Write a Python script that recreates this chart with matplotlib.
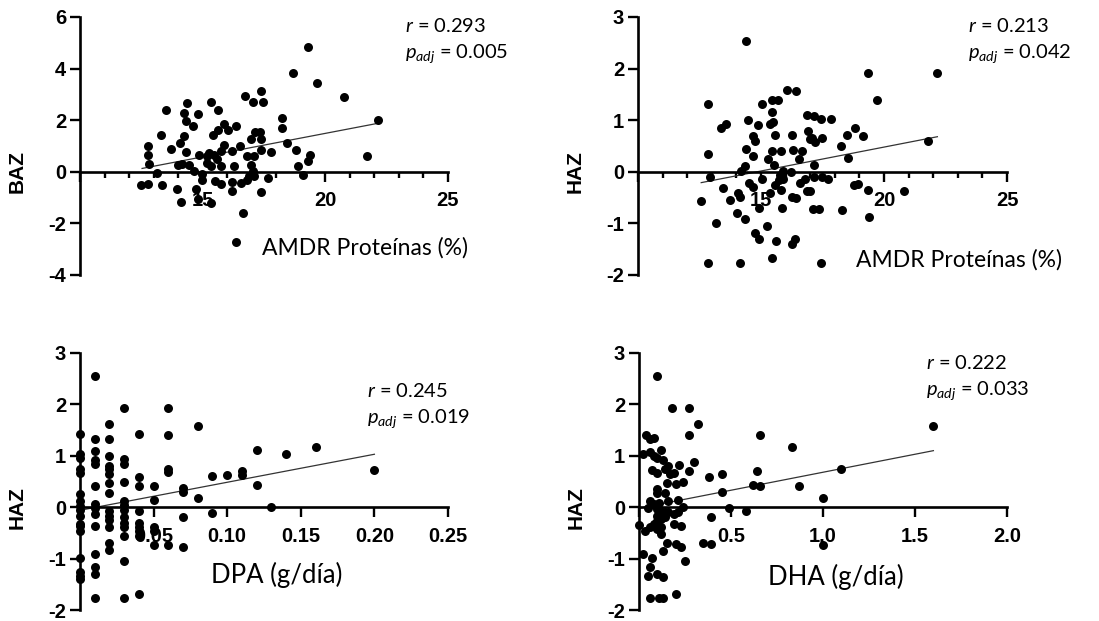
import numpy as np
import matplotlib
matplotlib.use("Agg")
import matplotlib.pyplot as plt

plt.rcParams['mathtext.fontset'] = 'custom'
plt.rcParams['mathtext.rm'] = 'Lato'
plt.rcParams['mathtext.it'] = 'Lato:italic'

# AMDR proteinas (%) vs BAZ
amdr_baz_x = [22.15, 19.3, 19.66, 18.7, 20.75, 21.7, 17.37, 16.71, 17.05, 17.47, 17.12, 17.33, 16.99, 17.37,
              17.37, 17.8, 18.25, 18.25, 18.44, 18.8, 18.9, 19.07, 19.38, 19.3, 17.67, 17.37, 16.64, 16.34,
              17.1, 16.8, 16.96, 17.05, 17.1, 16.88, 16.8, 16.55, 16.2, 16.2, 16.34, 16.51, 16.2, 16.27,
              16.03, 15.85, 15.62, 15.34, 15.64, 15.41, 15.86, 15.75, 15.48, 15.27, 15.18, 15.59, 15.73,
              15.34, 15.16, 15.51, 15.73, 15.34, 14.79, 14.74, 14.97, 14.96, 14.66, 14.85, 14.62, 14.79,
              14.38, 14.25, 14.32, 14.25, 14.08, 14.32, 14.16, 14.43, 14.0, 13.97, 14.1, 13.7, 13.5, 13.3,
              13.36, 13.12, 12.82, 12.78, 12.78, 12.78, 12.5]
amdr_baz_y = [2.02, 4.85, 3.43, 3.82, 2.89, 0.63, 3.15, 2.94, 2.71, 2.71, 1.53, 1.53, 1.27, 1.27,
              0.86, 0.77, 2.08, 1.70, 1.12, 0.86, 0.22, -0.13, 0.67, 0.41, -0.23, -0.78, -1.61, -2.71,
              0.6, 0.6, 0.28, 0.03, -0.17, -0.17, -0.3, -0.42, -0.4, -0.75, 1.76, 0.99, 0.8, 0.22,
              1.63, 1.86, 2.4, 2.69, 1.63, 1.44, 1.02, 0.8, 0.67, 0.73, 0.6, 0.5, 0.22,
              0.22, 0.35, -0.36, -0.46, -1.22, -1.04, -0.68, -0.3, -0.1, 0.03, 0.66, 1.79, 2.25,
              2.66, 2.28, 1.95, 1.4, 1.12, 0.77, 0.31, 0.28, 0.26, -0.66, -1.16, 0.9, 2.4, 1.44,
              -0.53, -0.06, 0.31, 0.67, 0.99, -0.49, -0.53]
amdr_baz_fit_x = [12.53, 22.2]
amdr_baz_fit_y = [0.13, 1.89]

# AMDR proteinas (%) vs HAZ
amdr_haz_x = [14.4, 22.15, 19.36, 19.7, 18.82, 19.13, 18.48, 18.27, 18.52, 21.77, 17.85, 17.43, 17.16, 16.88,
              16.92, 17.06, 17.2, 17.46, 16.99, 16.06, 16.41, 15.46, 15.69, 15.46, 15.04, 15.49, 15.38,
              15.57, 16.26, 14.46, 14.88, 14.68, 14.77, 14.4, 14.68, 14.33, 14.2, 15.28, 15.46, 15.8,
              16.3, 16.67, 16.55, 15.52, 15.9, 16.2, 15.76, 15.9, 15.73, 15.04, 14.51, 14.68, 15.38,
              15.56, 15.83, 16.28, 16.44, 16.58, 16.78, 16.85, 16.99, 17.16, 17.17, 17.46, 17.73, 18.79,
              18.95, 19.36, 20.82, 19.4, 18.3, 17.12, 17.36, 17.43, 15.86, 14.92, 15.24, 15.6, 15.45,
              14.77, 14.92, 16.24, 16.37, 14.33, 14.04, 14.16, 14.06, 13.72, 13.45, 13.18, 13.36, 13.56,
              12.85, 12.85, 12.91, 12.57, 12.85, 14.13]
amdr_haz_y = [2.54, 1.92, 1.92, 1.39, 0.84, 0.69, 0.71, 0.5, 0.26, 0.6, 1.02, 1.02, 1.08, 1.1,
              0.79, 0.66, 0.58, 0.66, 0.63, 1.59, 1.57, 1.4, 1.4, 1.16, 1.31, 0.97, 0.92,
              0.71, 0.71, 1.01, 0.9, 0.69, 0.6, 0.45, 0.3, 0.11, 0.02, 0.24, 0.41, 0.41,
              0.42, 0.41, 0.24, 0.13, 0.02, 0.0, -0.06, -0.13, -0.16, -0.13, -0.21, -0.3, -0.41,
              -0.26, -0.35, -0.48, -0.5, -0.21, -0.13, -0.37, -0.37, 0.13, -0.1, -0.1, -0.13, -0.25,
              -0.23, -0.35, -0.37, -0.87, -0.74, -0.73, -0.73, -1.77, -0.71, -0.71, -1.06, -1.34, -1.68,
              -1.18, -1.3, -1.39, -1.31, -0.92, -0.79, -0.48, -0.42, -0.55, -0.32, -0.99, 0.85, 0.92,
              1.31, 0.35, -0.1, -0.56, -1.77, -1.77]
amdr_haz_fit_x = [12.57, 22.17]
amdr_haz_fit_y = [-0.21, 0.68]

# DPA (g/dia) vs HAZ
dpa_x = ([0.0] * 17 + [0.01] * 14 + [0.02] * 14 + [0.03] * 13 + [0.04] * 9 + [0.05] * 5 + [0.06] * 5
         + [0.07] * 4 + [0.08] * 2 + [0.09] * 2 + [0.10] + [0.11] * 2 + [0.12] * 2 + [0.13] + [0.14]
         + [0.16] + [0.20])
dpa_y = [1.42, 1.04, 0.95, 0.74, 0.67, 0.25, 0.12, 0.03, -0.06, -0.17, -0.33, -0.36, -0.47, -0.98, -1.27, -1.33, -1.4,
         2.56, 1.33, 1.09, 0.91, 0.85, 0.41, 0.06, -0.01, -0.14, -0.36, -0.91, -1.16, -1.3, -1.77,
         1.61, 1.33, 1.0, 0.8, 0.74, 0.64, 0.47, 0.27, -0.07, -0.17, -0.25, -0.39, -0.7, -0.83,
         1.93, 0.93, 0.85, 0.5, 0.12, 0.05, -0.06, -0.2, -0.3, -0.38, -0.56, -1.04, -1.77,
         1.42, 0.59, 0.41, -0.07, -0.3, -0.39, -0.47, -0.56, -1.69,
         0.41, 0.14, -0.39, -0.47, -0.73,
         1.93, 1.4, 0.74, 0.69, -0.73,
         0.38, 0.3, -0.2, -0.78,
         1.58, 0.17,
         0.61, -0.12,
         0.62,
         0.71, 0.62,
         1.11, 0.43,
         0.01,
         1.03,
         1.17,
         0.72]
dpa_fit_x = [0.0, 0.20]
dpa_fit_y = [-0.06, 1.03]

# DHA (g/dia) vs HAZ
dha_x = [0.10, 0.18, 0.27, 0.32, 0.27, 0.30, 0.22, 0.27, 0.24, 0.21, 0.24, 0.19, 0.23, 0.20, 0.23, 0.25,
         0.20, 0.15, 0.13, 0.13, 0.10, 0.11, 0.13, 0.06, 0.06, 0.05, 0.07, 0.02, 0.0, 0.03, 0.06, 0.08,
         0.10, 0.12, 0.04, 0.06, 0.08, 0.02, 0.06, 0.08, 0.12, 0.10, 0.13, 0.16, 0.07, 0.10, 0.14, 0.17,
         0.19, 0.20, 0.15, 0.10, 0.10, 0.14, 0.16, 0.06, 0.08, 0.11, 0.05, 0.10, 0.13, 0.16, 0.19, 0.21,
         0.10, 0.12, 0.14, 0.10, 0.08, 0.12, 0.38, 0.45, 0.45, 0.39, 0.35, 0.39, 0.49, 0.58, 0.62, 0.64,
         0.66, 0.66, 0.83, 0.87, 1.0, 1.0, 1.1, 1.6]
dha_y = [2.56, 1.93, 1.93, 1.61, 1.4, 0.87, 0.83, 0.71, 0.5, 0.14, 0.01, -0.33, -0.36, -0.72, -0.78, -1.04,
         -1.68, -0.69, -0.86, -1.35, -1.3, -1.77, -1.77, -1.77, -1.17, -1.33, -0.98, -0.91, -0.34, -0.47, -0.39, -0.33,
         -0.43, -0.52, 1.4, 1.32, 1.34, 1.03, 1.08, 1.0, 1.11, 0.96, 0.91, 0.8, 0.72, 0.67, 0.74, 0.64,
         0.67, 0.45, 0.48, 0.35, 0.27, 0.28, 0.12, 0.12, 0.06, 0.09, -0.01, -0.04, -0.08, -0.1, -0.14, -0.1,
         -0.17, -0.23, -0.2, -0.27, -0.36, -0.38, 0.59, 0.64, 0.3, -0.19, -0.7, -0.72, -0.02, -0.08, 0.43, 0.71,
         1.4, 0.41, 1.18, 0.41, 0.17, -0.73, 0.74, 1.58]
dha_fit_x = [0.0, 1.6]
dha_fit_y = [-0.02, 1.1]

W, H = 1099, 621
fig = plt.figure(figsize=(W / 100, H / 100), dpi=100)


def make_panel(rect_px, x, y, fit_x, fit_y, xlim, ylim, xticks, xminor, yticks, xtlabels,
               ylabel, xlabel, xlab_pos, r_text, p_text, stat_pos):
    left, top, right, bottom = rect_px
    ax = fig.add_axes([left / W, 1 - bottom / H, (right - left) / W, (bottom - top) / H])
    ax.scatter(x, y, s=42, color='black', zorder=3, linewidths=0, clip_on=False)
    ax.plot(fit_x, fit_y, color='#333333', lw=0.9, zorder=2)
    ax.set_xlim(xlim)
    ax.set_ylim(ylim)
    for s in ['top', 'right']:
        ax.spines[s].set_visible(False)
    ax.spines['bottom'].set_position(('data', 0))
    ax.spines['left'].set_linewidth(1.9)
    ax.spines['bottom'].set_linewidth(1.9)
    ax.set_xticks(xticks)
    ax.set_xticklabels(xtlabels)
    if xminor is not None:
        ax.set_xticks(xminor, minor=True)
    ax.set_yticks(yticks)
    ax.set_yticklabels([str(v) for v in yticks])
    ax.tick_params(axis='both', which='major', direction='out', length=7, width=1.7, labelsize=14.5, pad=3)
    ax.tick_params(axis='x', which='minor', direction='out', length=4, width=1.7)
    ax.tick_params(axis='x', which='major', pad=7)
    for lab in ax.get_xticklabels() + ax.get_yticklabels():
        lab.set_family('Liberation Sans')
        lab.set_weight('bold')
    ax.set_ylabel(ylabel, fontsize=15, fontweight='bold', family='Liberation Sans')
    ax.yaxis.set_label_coords(-0.145, 0.4)
    ax.text(xlab_pos[0], xlab_pos[1], xlabel, transform=ax.transAxes, ha='center', va='center',
            fontsize=xlab_pos[2], family='Lato')
    ax.text(stat_pos[0], stat_pos[1], r_text, transform=ax.transAxes, ha='left', va='center',
            fontsize=14.5, family='Lato')
    ax.text(stat_pos[0], stat_pos[2], p_text, transform=ax.transAxes, ha='left', va='center',
            fontsize=14.5, family='Lato')
    return ax


make_panel((80, 17, 448, 275), amdr_baz_x, amdr_baz_y, amdr_baz_fit_x, amdr_baz_fit_y,
           (10, 25), (-4, 6), [10, 15, 20, 25], list(range(11, 25)), [-4, -2, 0, 2, 4, 6],
           ['', '15', '20', '25'], 'BAZ', 'AMDR Proteínas (%)', (0.775, 0.105, 16.5),
           r'$r$ = 0.293', r'$p_{adj}$ = 0.005', (0.883, 0.965, 0.858))

make_panel((638, 17, 1007, 275), amdr_haz_x, amdr_haz_y, amdr_haz_fit_x, amdr_haz_fit_y,
           (10, 25), (-2, 3), [10, 15, 20, 25], list(range(11, 25)), [-2, -1, 0, 1, 2, 3],
           ['', '15', '20', '25'], 'HAZ', 'AMDR Proteínas (%)', (0.87, 0.058, 16.5),
           r'$r$ = 0.213', r'$p_{adj}$ = 0.042', (0.894, 0.965, 0.858))

make_panel((80, 353, 448, 610), dpa_x, dpa_y, dpa_fit_x, dpa_fit_y,
           (0, 0.25), (-2, 3), [0, 0.05, 0.10, 0.15, 0.20, 0.25], None, [-2, -1, 0, 1, 2, 3],
           ['', '0.05', '0.10', '0.15', '0.20', '0.25'], 'HAZ', 'DPA (g/día)', (0.535, 0.136, 18.5),
           r'$r$ = 0.245', r'$p_{adj}$ = 0.019', (0.78, 0.853, 0.744))

make_panel((639, 353, 1007, 610), dha_x, dha_y, dha_fit_x, dha_fit_y,
           (0, 2.0), (-2, 3), [0, 0.5, 1.0, 1.5, 2.0], None, [-2, -1, 0, 1, 2, 3],
           ['', '0.5', '1.0', '1.5', '2.0'], 'HAZ', 'DHA (g/día)', (0.535, 0.128, 18.5),
           r'$r$ = 0.222', r'$p_{adj}$ = 0.033', (0.78, 0.961, 0.853))

fig.savefig('out.png', dpi=100)
